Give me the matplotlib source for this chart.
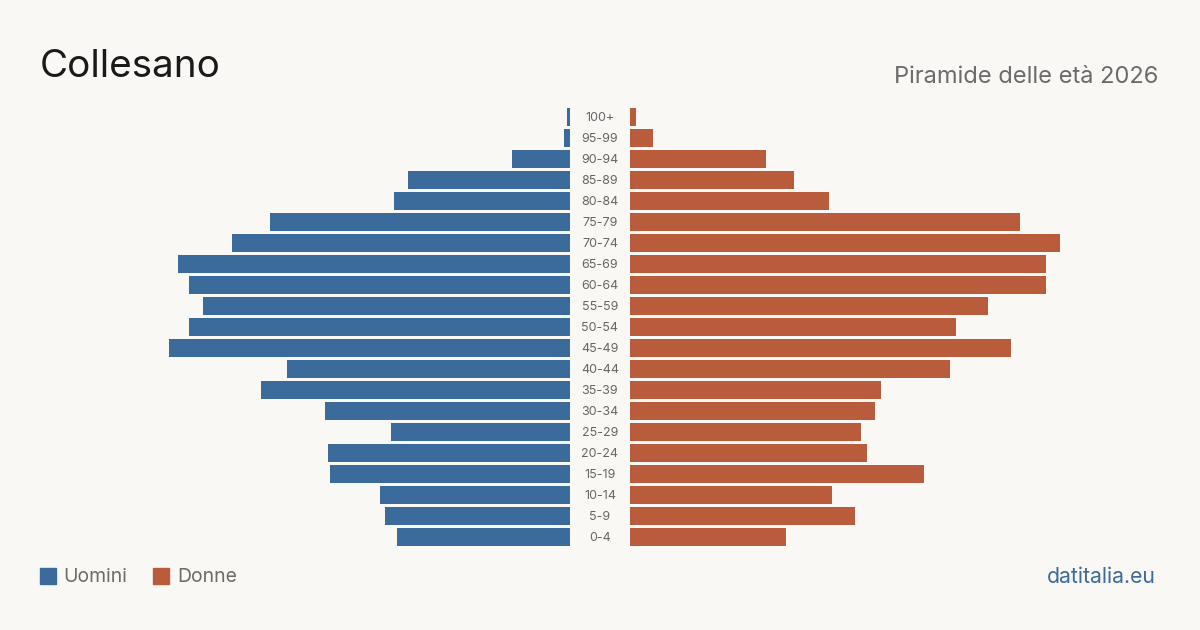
import numpy as np
import matplotlib.pyplot as plt

plt.rcParams['font.family'] = ['Inter', 'DejaVu Sans']

# Age groups from youngest to oldest
ages = ['0-4', '5-9', '10-14', '15-19', '20-24', '25-29', '30-34', '35-39',
        '40-44', '45-49', '50-54', '55-59', '60-64', '65-69', '70-74',
        '75-79', '80-84', '85-89', '90-94', '95-99', '100+']
uomini = [173, 185, 190, 240, 242, 179, 245, 309, 283, 401, 381, 367,
          381, 392, 338, 300, 176, 162, 58, 6, 3]
donne = [156, 225, 202, 294, 237, 231, 245, 251, 320, 381, 326, 358,
         416, 416, 430, 390, 199, 164, 136, 23, 6]

blue = '#3b6b9b'
red = '#b95c3c'
bg = '#f9f8f4'
gap = 30

fig = plt.figure(figsize=(12, 6.3), dpi=100, facecolor=bg)
ax = fig.add_axes([0, 0, 1, 1])
ax.set_facecolor(bg)

y = np.arange(len(ages))
ax.barh(y, -np.array(uomini), left=-gap, height=0.81, color=blue)
ax.barh(y, donne, left=gap, height=0.81, color=red)
for yi, lab in zip(y, ages):
    ax.text(0, yi - 0.05, lab, ha='center', va='center', fontsize=9, color='#666666')

ax.set_xlim(-600, 600)
ax.set_ylim(-93 / 21, 537 / 21)
ax.axis('off')

fig.text(40 / 1200, 1 - 67 / 630, 'Collesano', fontsize=27.8, color='#1a1a1a',
         va='center', ha='left')
fig.text(1158 / 1200, 1 - 77 / 630, 'Piramide delle età 2026', fontsize=17,
         color='#6b6b6b', va='center', ha='right')

# legend
fig.patches.append(plt.Rectangle((40 / 1200, 1 - 584 / 630), 16 / 1200, 16 / 630,
                                 transform=fig.transFigure, color=blue))
fig.text(63 / 1200, 1 - 577 / 630, 'Uomini', fontsize=13.9, color='#6b6b6b',
         va='center', ha='left')
fig.patches.append(plt.Rectangle((153 / 1200, 1 - 584 / 630), 16 / 1200, 16 / 630,
                                 transform=fig.transFigure, color=red))
fig.text(177 / 1200, 1 - 577 / 630, 'Donne', fontsize=13.9, color='#6b6b6b',
         va='center', ha='left')
fig.text(1156 / 1200, 1 - 577 / 630, 'datitalia.eu', fontsize=15.3, color=blue,
         va='center', ha='right')

fig.savefig('out.png', dpi=100, facecolor=bg)
